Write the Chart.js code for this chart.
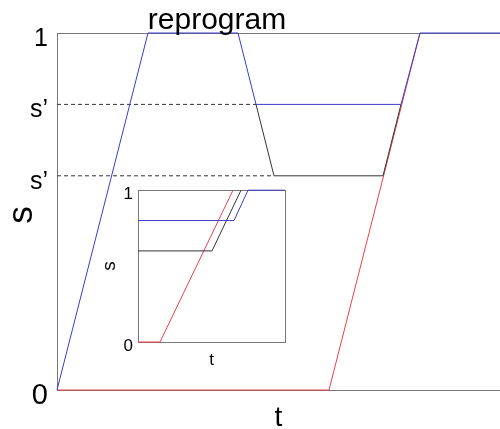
<!DOCTYPE html>
<html>
<head>
<meta charset="utf-8">
<script src="https://cdn.jsdelivr.net/npm/chart.js@4.4.1/dist/chart.umd.min.js"></script>
<style>
  html, body { margin: 0; padding: 0; background: #fff; }
  #wrap { position: relative; width: 500px; height: 429px; }
  #mainChart { position: absolute; left: 0; top: 0; }
  #insetChart { position: absolute; left: 90px; top: 175px; }
</style>
</head>
<body>
<div id="wrap">
  <canvas id="mainChart" width="500" height="429"></canvas>
  <canvas id="insetChart" width="200" height="200"></canvas>
</div>
<script>
// main panel: s against t, t in plot units
const mainTMax = 443;
const mainYTicks = [0, 0.6, 0.8, 1];
const mainYLabels = ['0', 's\u2019', 's\u2019', '1'];

const blueT = [0, 91, 181, 199, 344, 363, 443];
const blueS = [0, 1, 1, 0.8, 0.8, 1, 1];
const blackT = [199, 217, 326, 344];
const blackS = [0.8, 0.6, 0.6, 0.8];
const redT = [0, 272, 363];
const redS = [0, 0, 1];
const dashHiT = [0, 199];
const dashHiS = [0.8, 0.8];
const dashLoT = [0, 217];
const dashLoS = [0.6, 0.6];

// inset panel
const insetTMax = 147;
const insetYTicks = [0, 1];
const insetYLabels = ['0', '1'];
const inBlueT = [0, 96, 110, 147];
const inBlueS = [0.8, 0.8, 1, 1];
const inBlackT = [0, 74, 103];
const inBlackS = [0.6, 0.6, 1];
const inRedT = [0, 22, 95];
const inRedS = [0, 0, 1];

const BLUE = '#3c3cc8';
const RED = '#e8404c';
const BLACK = '#333333';
const FRAME = '#777777';
const FONT = 'Liberation Sans, Arial, sans-serif';

function pts(xs, ys) {
    return xs.map((x, i) => ({ x: x, y: ys[i] }));
}

function line(xs, ys, color, dash) {
    return {
        data: pts(xs, ys),
        borderColor: color,
        borderWidth: 1,
        borderDash: dash || [],
        pointRadius: 0,
        tension: 0,
        fill: false,
        clip: false
    };
}

function edgeAxis(position, max, extra) {
    return Object.assign({
        type: 'linear',
        position: position,
        min: 0,
        max: max,
        grid: { display: false, drawTicks: false },
        ticks: { display: false },
        border: { display: true, color: FRAME, width: 1 }
    }, extra || {});
}

// title on the top edge of the frame, and the rotated s label
const mainText = {
    id: 'mainText',
    afterDraw(chart) {
        const ctx = chart.ctx;
        ctx.save();
        ctx.fillStyle = '#000';
        ctx.textAlign = 'center';
        ctx.textBaseline = 'alphabetic';
        ctx.font = '30px ' + FONT;
        ctx.fillText('reprogram', 217, 29);
        ctx.translate(32, 215);
        ctx.rotate(-Math.PI / 2);
        ctx.font = '35px ' + FONT;
        ctx.fillText('s', 0, 0);
        ctx.restore();
    }
};

new Chart(document.getElementById('mainChart'), {
    type: 'line',
    data: {
        datasets: [
            line(blueT, blueS, BLUE),
            line(blackT, blackS, BLACK),
            line(redT, redS, RED),
            line(dashHiT, dashHiS, BLACK, [4, 3]),
            line(dashLoT, dashLoS, BLACK, [4, 3])
        ]
    },
    options: {
        responsive: false,
        animation: false,
        layout: { padding: { top: 33, left: 0, right: 0, bottom: 0 } },
        plugins: { legend: { display: false }, tooltip: { enabled: false } },
        scales: {
            x: edgeAxis('bottom', mainTMax, {
                title: {
                    display: true, text: 't', color: '#000',
                    font: { family: FONT, size: 28, lineHeight: 0.8 },
                    padding: { top: 0, bottom: 0 }
                },
                afterFit: s => { s.height = 39; }
            }),
            xTop: edgeAxis('top', mainTMax, { afterFit: s => { s.height = 0; } }),
            y: {
                type: 'linear',
                position: 'left',
                min: 0,
                max: 1,
                grid: { display: false, drawTicks: false },
                border: { display: true, color: FRAME, width: 1 },
                afterBuildTicks: s => { s.ticks = mainYTicks.map(v => ({ value: v })); },
                ticks: {
                    color: '#000',
                    padding: 9,
                    labelOffset: 6,
                    font: c => ({ family: FONT, size: c.tick && c.tick.value === 0 ? 29 : 25 }),
                    callback: v => mainYLabels[mainYTicks.indexOf(v)]
                },
                afterFit: s => { s.width = 57; }
            }
        }
    },
    plugins: [mainText]
});

new Chart(document.getElementById('insetChart'), {
    type: 'line',
    data: {
        datasets: [
            line(inBlueT, inBlueS, BLUE),
            line(inBlackT, inBlackS, BLACK),
            line(inRedT, inRedS, RED)
        ]
    },
    options: {
        responsive: false,
        animation: false,
        layout: { padding: { top: 14, left: 0, right: 5, bottom: 0 } },
        plugins: { legend: { display: false }, tooltip: { enabled: false } },
        scales: {
            x: edgeAxis('bottom', insetTMax, {
                title: {
                    display: true, text: 't', color: '#000',
                    font: { family: FONT, size: 17, lineHeight: 1 },
                    padding: { top: 0, bottom: 6 }
                },
                afterFit: s => { s.height = 33; }
            }),
            xTop: edgeAxis('top', insetTMax, { afterFit: s => { s.height = 0; } }),
            yRight: edgeAxis('right', 1, { afterFit: s => { s.width = 0; } }),
            y: {
                type: 'linear',
                position: 'left',
                min: 0,
                max: 1,
                grid: { display: false, drawTicks: false },
                border: { display: true, color: FRAME, width: 1 },
                afterBuildTicks: s => { s.ticks = insetYTicks.map(v => ({ value: v })); },
                ticks: {
                    color: '#000',
                    padding: 5,
                    labelOffset: 4,
                    font: { family: FONT, size: 17 },
                    callback: v => insetYLabels[insetYTicks.indexOf(v)]
                },
                title: {
                    display: true, text: 's', color: '#000',
                    font: { family: FONT, size: 19, lineHeight: 1 },
                    padding: { top: 10, bottom: 0 }
                },
                afterFit: s => { s.width = 48; }
            }
        }
    }
});
</script>
</body>
</html>
